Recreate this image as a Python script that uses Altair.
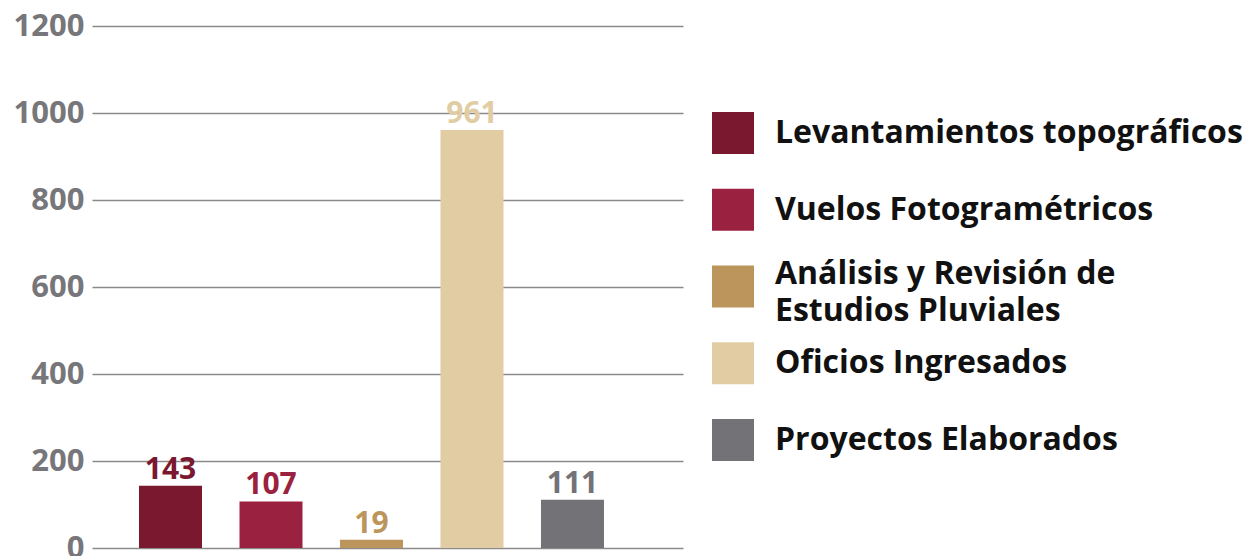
import altair as alt
import pandas as pd

categories = [
    "Levantamientos topográficos",
    "Vuelos Fotogramétricos",
    "Análisis y Revisión de\nEstudios Pluviales",
    "Oficios Ingresados",
    "Proyectos Elaborados",
]
values = [143, 107, 19, 961, 111]
colors = ["#7a1830", "#9b2140", "#bc955c", "#e1cca4", "#727277"]
y_ticks = [0, 200, 400, 600, 800, 1000, 1200]

FONT = "Open Sans"
df = pd.DataFrame({"cat": categories, "value": values})

color_scale = alt.Scale(domain=categories, range=colors)

x_enc = alt.X(
    "cat:N",
    sort=categories,
    axis=None,
    scale=alt.Scale(paddingInner=0.373, paddingOuter=0.627, align=0.373),
)
y_enc = alt.Y(
    "value:Q",
    scale=alt.Scale(domain=[0, 1200]),
    axis=alt.Axis(
        values=y_ticks,
        format="d",
        title=None,
        domain=False,
        ticks=False,
        labelFontSize=31,
        labelFont=FONT,
        labelFontWeight="bold",
        labelColor="#77777b",
        labelPadding=8,
        gridColor="#8a8a8a",
        gridWidth=1.5,
    ),
)

bars = alt.Chart(df).mark_bar().encode(
    x=x_enc,
    y=y_enc,
    color=alt.Color("cat:N", scale=color_scale, legend=None),
)
labels = alt.Chart(df).mark_text(
    baseline="alphabetic", dy=-7, fontSize=30, font=FONT, fontWeight="bold"
).encode(
    x=x_enc,
    y="value:Q",
    text="value:Q",
    color=alt.Color("cat:N", scale=color_scale, legend=None),
)
main = (bars + labels).properties(width=591, height=522)

leg_y = alt.Y(
    "cat:N",
    sort=categories,
    axis=None,
    scale=alt.Scale(type="point", range=[107, 414], padding=0),
)
leg_sq = alt.Chart(df).mark_square(size=1764, opacity=1).encode(
    x=alt.value(50),
    y=leg_y,
    color=alt.Color("cat:N", scale=color_scale, legend=None),
)
text_props = dict(
    align="left",
    baseline="middle",
    fontSize=32,
    font=FONT,
    fontWeight="bold",
    color="#111111",
    lineBreak="\n",
    lineHeight=37,
)
leg_tx1 = (
    alt.Chart(df)
    .transform_filter("indexof(datum.cat, '\\n') < 0")
    .mark_text(**text_props)
    .encode(x=alt.value(92), y=leg_y, text="cat:N")
)
leg_tx2 = (
    alt.Chart(df)
    .transform_filter("indexof(datum.cat, '\\n') >= 0")
    .mark_text(dy=-13, **text_props)
    .encode(x=alt.value(92), y=leg_y, text="cat:N")
)
legend = (leg_sq + leg_tx1 + leg_tx2).properties(width=540, height=522)

chart = (
    alt.hconcat(main, legend, spacing=0)
    .properties(padding={"left": 5, "top": 2, "right": 0, "bottom": 0})
    .configure_view(stroke=None)
)
chart.save("out.html", embed_options={"renderer": "svg", "actions": False})
